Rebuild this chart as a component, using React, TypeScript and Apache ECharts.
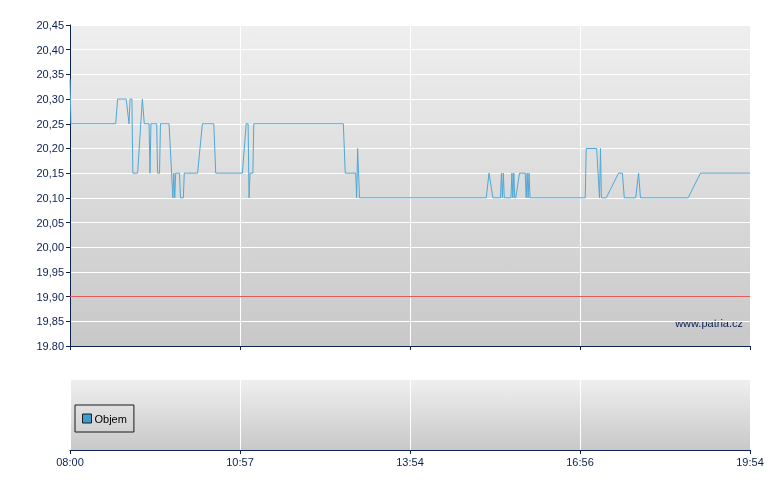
import React, { useEffect, useRef } from "react";
import * as echarts from "echarts";

// Trade times (HH:MM) and prices
const times = [
  "08:00", "08:01", "08:48", "08:50", "08:59", "09:02", "09:03", "09:05", "09:06", "09:11",
  "09:16", "09:18", "09:23", "09:24", "09:25", "09:31", "09:32", "09:34", "09:35", "09:44",
  "09:48", "09:49", "09:50", "09:51", "09:55", "09:56", "09:59", "10:00", "10:14", "10:19",
  "10:31", "10:33", "11:01", "11:05", "11:07", "11:08", "11:09", "11:12", "11:13", "12:47",
  "12:49", "13:00", "13:01", "13:02", "13:04", "15:17", "15:20", "15:24", "15:32", "15:33",
  "15:34", "15:35", "15:36", "15:43", "15:44", "15:45", "15:46", "15:47", "15:48", "15:52",
  "15:58", "15:59", "16:00", "16:01", "16:02", "16:03", "17:01", "17:02", "17:13", "17:16",
  "17:17", "17:18", "17:23", "17:36", "17:40", "17:42", "17:54", "17:57", "17:59", "18:49",
  "19:02", "19:54",
];
const prices = [
  20.34, 20.25, 20.25, 20.3, 20.3, 20.25, 20.3, 20.3, 20.15, 20.15,
  20.3, 20.25, 20.25, 20.15, 20.25, 20.25, 20.15, 20.15, 20.25, 20.25,
  20.1, 20.15, 20.1, 20.15, 20.15, 20.1, 20.1, 20.15, 20.15, 20.25,
  20.25, 20.15, 20.15, 20.25, 20.25, 20.1, 20.15, 20.15, 20.25, 20.25,
  20.15, 20.15, 20.1, 20.2, 20.1, 20.1, 20.15, 20.1, 20.1, 20.15,
  20.1, 20.15, 20.1, 20.1, 20.15, 20.1, 20.15, 20.1, 20.1, 20.15,
  20.15, 20.1, 20.15, 20.1, 20.15, 20.1, 20.1, 20.2, 20.2, 20.1,
  20.2, 20.1, 20.1, 20.15, 20.15, 20.1, 20.1, 20.15, 20.1, 20.1,
  20.15, 20.15,
];
const referenceLevel = 19.9;

const xTickLabels = ["08:00", "10:57", "13:54", "16:56", "19:54"];
const yTickLabels = [
  "19.80", "19,85", "19,90", "19,95", "20,00", "20,05", "20,10",
  "20,15", "20,20", "20,25", "20,30", "20,35", "20,40", "20,45",
];
const volumeSeriesName = "Objem";
const watermark = "www.patria.cz";

const sessionMinutes = 714;
const toMin = (t: string) => {
  const [h, m] = t.split(":").map(Number);
  return (h - 8) * 60 + m;
};

const NAVY = "#0c2052";
const FONT = "Liberation Sans, Arial, sans-serif";

const bgGradient = () =>
  new echarts.graphic.LinearGradient(0, 0, 0, 1, [
    { offset: 0, color: "#efefef" },
    { offset: 1, color: "#c8c8c8" },
  ]);

export default function App() {
  const ref = useRef<HTMLDivElement>(null);
  useEffect(() => {
    if (!ref.current) return;
    const chart = echarts.init(ref.current, null, { renderer: "svg" });
    const xInterval = sessionMinutes / 4;
    const xLabelFmt = (v: number) => xTickLabels[Math.round(v / xInterval)] ?? "";
    chart.setOption({
      animation: false,
      textStyle: { fontFamily: FONT },
      grid: [
        {
          left: 70, top: 25, width: 680, height: 321,
          show: true, backgroundColor: bgGradient(), borderWidth: 0,
        },
        {
          left: 70, top: 380, width: 680, height: 70,
          show: true, backgroundColor: bgGradient(), borderWidth: 0,
        },
      ],
      xAxis: [
        {
          type: "value", gridIndex: 0, min: 0, max: sessionMinutes, interval: xInterval,
          axisLine: { show: true, lineStyle: { color: NAVY, width: 1 } },
          axisTick: { show: true, length: 4, lineStyle: { color: NAVY } },
          axisLabel: { show: false },
          splitLine: { show: true, lineStyle: { color: "#ffffff", width: 1 } },
        },
        {
          type: "value", gridIndex: 1, min: 0, max: sessionMinutes, interval: xInterval,
          axisLine: { show: true, lineStyle: { color: NAVY, width: 1 } },
          axisTick: { show: true, length: 4, lineStyle: { color: NAVY } },
          axisLabel: {
            show: true, color: NAVY, fontSize: 11, margin: 6,
            formatter: xLabelFmt,
            fontFamily: FONT,
          },
          splitLine: { show: true, lineStyle: { color: "#ffffff", width: 1 } },
        },
      ],
      yAxis: [
        {
          type: "value", gridIndex: 0, min: 19.8, max: 20.45, interval: 0.05,
          axisLine: { show: true, lineStyle: { color: NAVY, width: 1 } },
          axisTick: { show: true, length: 4, lineStyle: { color: NAVY } },
          axisLabel: {
            color: NAVY, fontSize: 11, margin: 6,
            formatter: (v: number) => yTickLabels[Math.round((v - 19.8) / 0.05)] ?? "",
            fontFamily: FONT,
          },
          splitLine: { show: true, lineStyle: { color: "#ffffff", width: 1 } },
        },
        {
          type: "value", gridIndex: 1, min: 0, max: 1, show: false,
        },
      ],
      legend: {
        data: [volumeSeriesName],
        left: 75, top: 405,
        padding: [8, 7],
        borderColor: "#1a1a1a", borderWidth: 1, borderRadius: 0,
        backgroundColor: "transparent",
        itemWidth: 9, itemHeight: 9,
        icon: "rect",
        itemStyle: { borderColor: "#1a1a1a", borderWidth: 1 },
        textStyle: { color: "#000", fontSize: 11, fontFamily: FONT, padding: [0, 0, 0, -2] },
        selectedMode: false,
      },
      graphic: [
        {
          type: "text", x: 743, y: 323,
          style: {
            text: watermark, fill: NAVY, fontSize: 11, align: "right", verticalAlign: "middle",
            fontFamily: FONT,
          },
        },
      ],
      series: [
        {
          name: "Kurz", type: "line", xAxisIndex: 0, yAxisIndex: 0,
          data: times.map((t, i) => [toMin(t), prices[i]]),
          showSymbol: false, symbol: "none",
          lineStyle: { color: "#4fa7d6", width: 1 },
          markLine: {
            silent: true, symbol: "none",
            label: { show: false },
            lineStyle: { color: "#e45a5a", type: "solid", width: 1 },
            data: [{ yAxis: referenceLevel }],
          },
          z: 3,
        },
        {
          name: volumeSeriesName, type: "bar", xAxisIndex: 1, yAxisIndex: 1,
          data: [],
          itemStyle: { color: "#3d9dd1" },
        },
      ],
    });
    return () => chart.dispose();
  }, []);
  return (
    <div
      ref={ref}
      style={{ position: "fixed", left: 0, top: 0, width: 780, height: 490 }}
    />
  );
}
